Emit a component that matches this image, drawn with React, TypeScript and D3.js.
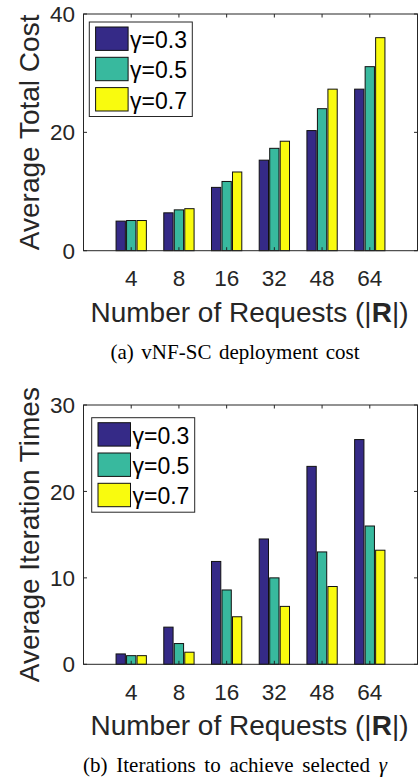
import React from 'react';
import * as d3 from 'd3';

// categories and series
const requests = ['4', '8', '16', '32', '48', '64'];
const gammaLabels = ['γ=0.3', 'γ=0.5', 'γ=0.7'];
const gammaColors = ['#352a87', '#38b99e', '#f9fb0e'];

// (a) average total cost
const costG03 = [5.0, 6.4, 10.7, 15.3, 20.3, 27.3];
const costG05 = [5.1, 6.9, 11.7, 17.3, 24.0, 31.1];
const costG07 = [5.1, 7.1, 13.3, 18.5, 27.3, 36.0];
const costTicks = [0, 20, 40];

// (b) average iteration times
const iterG03 = [1.2, 4.3, 11.9, 14.5, 22.9, 26.0];
const iterG05 = [1.0, 2.4, 8.6, 10.0, 13.0, 16.0];
const iterG07 = [1.0, 1.4, 5.5, 6.7, 9.0, 13.2];
const iterTicks = [0, 10, 20, 30];

const W = 420;
const H = 781;
const SANS = '"Liberation Sans", Arial, Helvetica, sans-serif';
const SERIF = '"Liberation Serif", "Times New Roman", serif';
const INK = '#262626';
const LEFT = 83.5;
const RIGHT = 417.5;
const TICK = 3.5;

type PanelProps = {
  top: number;
  bottom: number;
  yMax: number;
  yTicks: number[];
  yLabel: string;
  series: number[][];
  legendX: number;
  legendY: number;
  caption: React.ReactNode;
  captionY: number;
  captionGap: number;
};

const Panel = ({ top, bottom, yMax, yTicks, yLabel, series, legendX, legendY, caption, captionY, captionGap }: PanelProps) => {
  const x = d3.scaleLinear().domain([0, requests.length + 1]).range([LEFT, RIGHT]);
  const y = d3.scaleLinear().domain([0, yMax]).range([bottom, top]);
  // offsets of the three bars inside a group, in category units
  const sub = d3.scaleBand<number>().domain(d3.range(series.length)).range([-0.3175, 0.3175]).paddingInner(0.114);
  const barW = x(sub.bandwidth()) - x(0);
  const midY = (top + bottom) / 2;

  return (
    <g>
      {/* bars */}
      {series.map((vals, s) =>
        vals.map((v, i) => (
          <rect
            key={`${s}-${i}`}
            x={x(i + 1 + (sub(s) as number))}
            y={y(v)}
            width={barW}
            height={y(0) - y(v)}
            fill={gammaColors[s]}
            stroke="#111"
            strokeWidth={1}
          />
        ))
      )}

      {/* axes box */}
      <rect x={LEFT} y={top} width={RIGHT - LEFT} height={bottom - top} fill="none" stroke={INK} strokeWidth={1} />

      {/* x ticks (bottom and top, pointing in) */}
      {requests.map((r, i) => (
        <g key={r}>
          <line x1={x(i + 1)} x2={x(i + 1)} y1={bottom} y2={bottom - TICK} stroke={INK} />
          <line x1={x(i + 1)} x2={x(i + 1)} y1={top} y2={top + TICK} stroke={INK} />
          <text x={x(i + 1)} y={bottom + 35.3} textAnchor="middle" fontFamily={SANS} fontSize={22.5} fill={INK}>
            {r}
          </text>
        </g>
      ))}

      {/* y ticks */}
      {yTicks.map((t) => (
        <g key={t}>
          <line x1={LEFT} x2={LEFT + TICK} y1={y(t)} y2={y(t)} stroke={INK} />
          <line x1={RIGHT} x2={RIGHT - TICK} y1={y(t)} y2={y(t)} stroke={INK} />
          <text x={75} y={y(t)} dy="0.36em" textAnchor="end" fontFamily={SANS} fontSize={22.5} fill={INK}>
            {t}
          </text>
        </g>
      ))}

      {/* axis labels */}
      <text
        transform={`translate(39,${midY}) rotate(-90)`}
        textAnchor="middle"
        fontFamily={SANS}
        fontSize={28}
        fill={INK}
      >
        {yLabel}
      </text>
      <text x={249.5} y={bottom + 71} textAnchor="middle" fontFamily={SANS} fontSize={28} fill={INK}>
        Number of Requests (|<tspan fontWeight="bold">R</tspan>|)
      </text>

      {/* legend */}
      <g transform={`translate(${legendX},${legendY})`}>
        <rect x={0} y={0} width={103} height={94.5} fill="#fff" stroke={INK} strokeWidth={1} />
        {gammaLabels.map((lab, s) => (
          <g key={lab} transform={`translate(0,${s * 30.3})`}>
            <rect x={6.3} y={5} width={32.5} height={23.4} fill={gammaColors[s]} stroke="#111" strokeWidth={1} />
            <text x={40.8} y={26} fontFamily={SANS} fontSize={23} fill="#000">
              {lab}
            </text>
          </g>
        ))}
      </g>

      {/* caption */}
      <text
        x={235}
        y={captionY}
        textAnchor="middle"
        fontFamily={SERIF}
        fontSize={21}
        fill="#000"
        wordSpacing={captionGap}
      >
        {caption}
      </text>
    </g>
  );
};

export default function App() {
  return (
    <svg
      width={W}
      height={H}
      viewBox={`0 0 ${W} ${H}`}
      style={{ position: 'absolute', left: 0, top: 0, display: 'block', background: '#fff' }}
    >
      <rect width={W} height={H} fill="#fff" />
      <Panel
        top={14}
        bottom={250.7}
        yMax={40}
        yTicks={costTicks}
        yLabel="Average Total Cost"
        series={[costG03, costG05, costG07]}
        legendX={89.3}
        legendY={22}
        caption="(a) vNF-SC deployment cost"
        captionY={359}
        captionGap={2.3}
      />
      <Panel
        top={405}
        bottom={664.3}
        yMax={30}
        yTicks={iterTicks}
        yLabel="Average Iteration Times"
        series={[iterG03, iterG05, iterG07]}
        legendX={91.7}
        legendY={417.7}
        caption={
          <>
            (b) Iterations to achieve selected <tspan fontStyle="italic">γ</tspan>
          </>
        }
        captionY={771.5}
        captionGap={3.5}
      />
    </svg>
  );
}
